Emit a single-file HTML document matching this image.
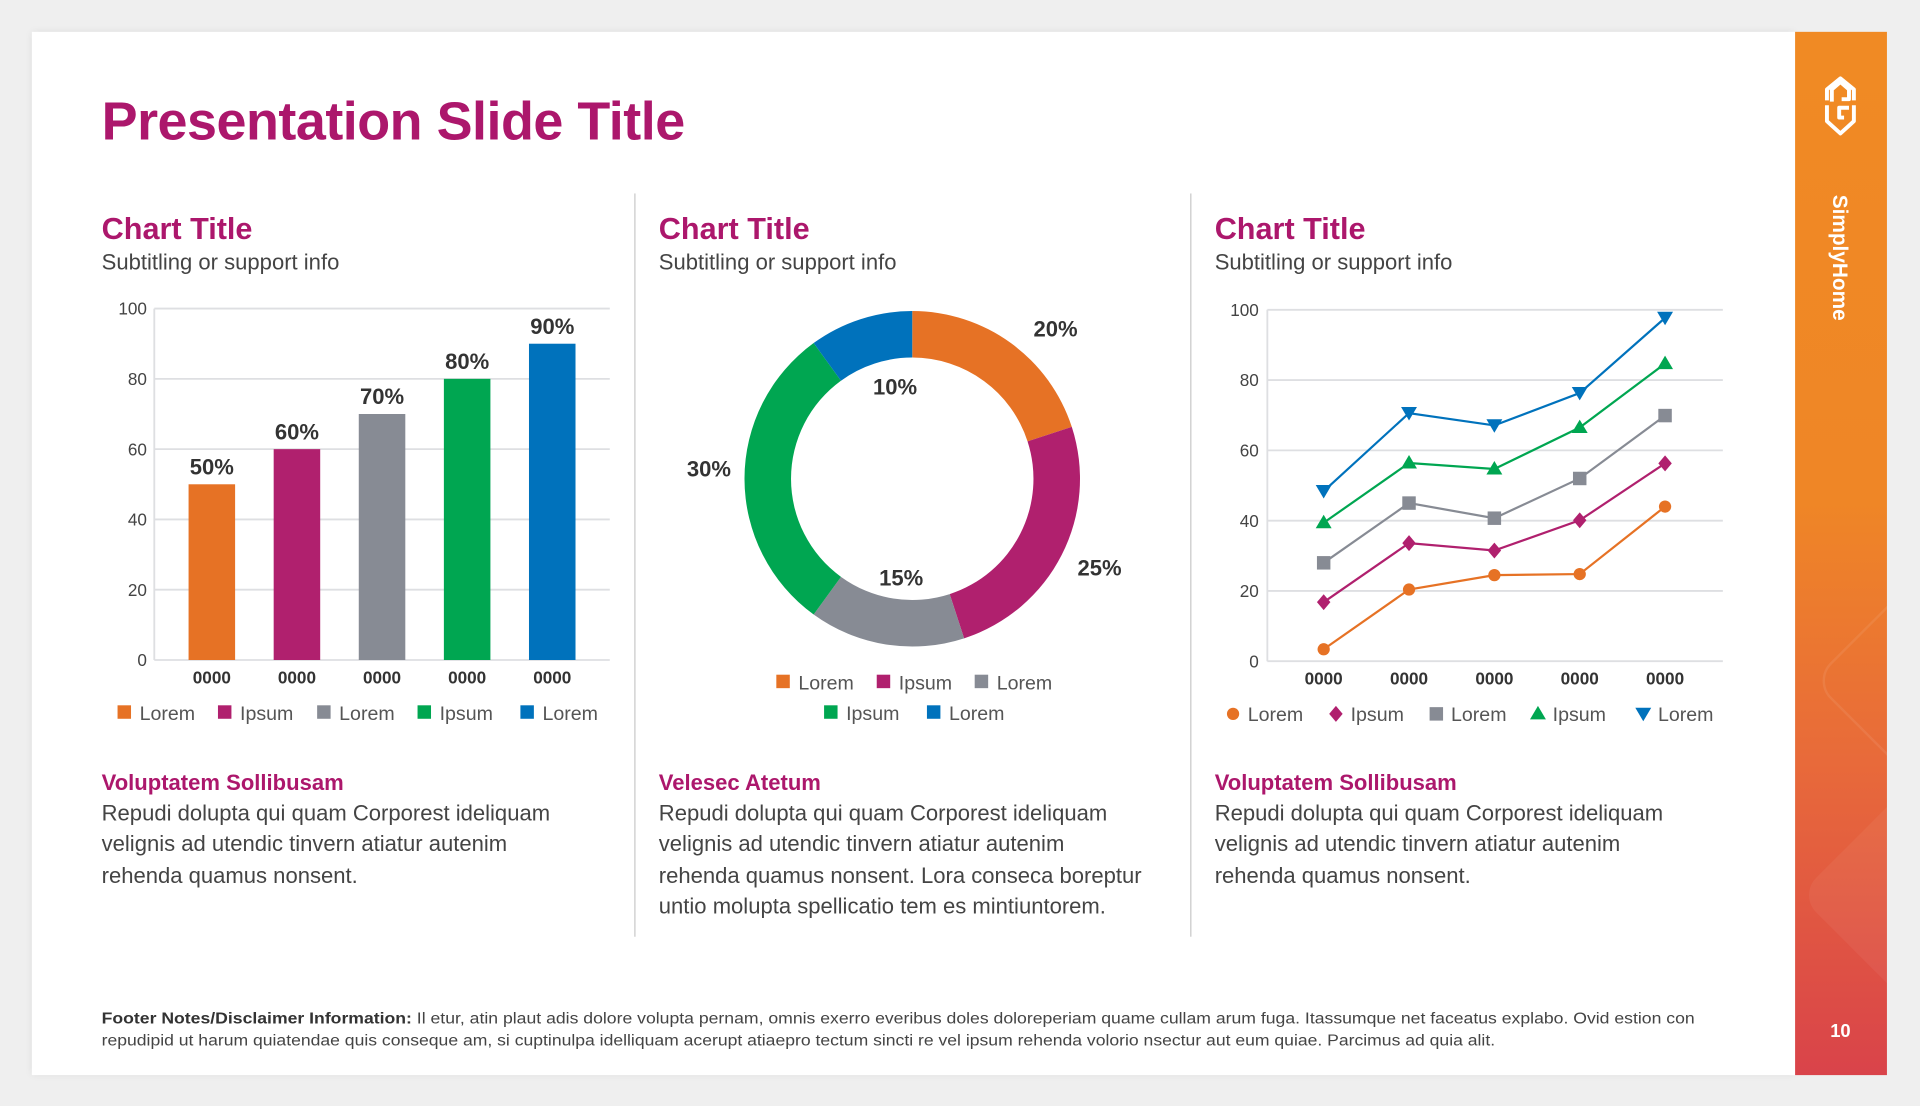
<!DOCTYPE html>
<html><head><meta charset="utf-8">
<style>
html,body{margin:0;padding:0;background:#efefef;width:1920px;height:1106px;overflow:hidden;font-family:"Liberation Sans",Arial,sans-serif;}
#wrap{position:absolute;left:0;top:0;width:1568px;height:903px;transform:scale(1.2244898);transform-origin:0 0;}
.abs{position:absolute;}
.slide{left:26px;top:26px;width:1440px;height:852px;background:#fff;box-shadow:0 0 6px rgba(0,0,0,0.08);}
.side{left:1466px;top:26px;width:75px;height:852px;background:linear-gradient(180deg,#f08a24 0%,#ef8626 45%,#e86a3a 70%,#d9434a 100%);overflow:hidden;}
h1{margin:0;position:absolute;left:83px;top:75px;font-size:44px;font-weight:bold;color:#ac176c;letter-spacing:-0.4px;white-space:nowrap;}
.ct{font-size:25px;font-weight:bold;color:#ac176c;white-space:nowrap;}
.sub{font-size:18px;color:#444;white-space:nowrap;}
.hd{font-size:18px;font-weight:bold;color:#ac176c;white-space:nowrap;}
.body{font-size:18px;color:#444;line-height:25.3px;white-space:nowrap;}
.div{width:1px;background:#c8c8c8;top:158px;height:607px;}
svg text{font-family:"Liberation Sans",Arial,sans-serif;}
</style></head><body>
<div id="wrap">
<div class="abs slide"></div>
<div class="abs side">
  <svg width="75" height="852">
    <rect x="40" y="470" width="120" height="120" rx="20" transform="rotate(45 100 530)" fill="none" stroke="rgba(255,255,255,0.08)" stroke-width="2"/>
    <rect x="30" y="640" width="130" height="130" rx="20" transform="rotate(45 95 705)" fill="rgba(255,255,255,0.05)"/>
    <g fill="none" stroke="#fff" stroke-width="3.2" stroke-linejoin="round">
      <path d="M30 57 L30 47 L37 41 L44 47 L44 55 L38 55"/>
      <path d="M26 60 L26 73 L37 83 L48 73 L48 60"/>
      <path d="M48 56 L48 47 L37 38 L26 47 L26 56"/>
      <path d="M44 62 L36 62 L36 70 L40 70"/>
    </g>
    <text x="0" y="0" transform="translate(31 133) rotate(90)" fill="#fff" font-size="17" font-weight="bold">SimplyHome</text>
    <text x="37" y="821" fill="#fff" font-size="15" font-weight="bold" text-anchor="middle">10</text>
  </svg>
</div>

<h1>Presentation Slide Title</h1>
<div class="abs div" style="left:518px"></div>
<div class="abs div" style="left:972px"></div>

<div class="abs ct" style="left:83px;top:173px">Chart Title</div>
<div class="abs sub" style="left:83px;top:204px">Subtitling or support info</div>
<div class="abs ct" style="left:538px;top:173px">Chart Title</div>
<div class="abs sub" style="left:538px;top:204px">Subtitling or support info</div>
<div class="abs ct" style="left:992px;top:173px">Chart Title</div>
<div class="abs sub" style="left:992px;top:204px">Subtitling or support info</div>

<svg class="abs" style="left:0;top:0" width="1568" height="903" id="charts"></svg>

<div class="abs hd" style="left:83px;top:629px">Voluptatem Sollibusam</div>
<div class="abs body" style="left:83px;top:652px">Repudi dolupta qui quam Corporest ideliquam<br>velignis ad utendic tinvern atiatur autenim<br>rehenda quamus nonsent.</div>
<div class="abs hd" style="left:538px;top:629px">Velesec Atetum</div>
<div class="abs body" style="left:538px;top:652px">Repudi dolupta qui quam Corporest ideliquam<br>velignis ad utendic tinvern atiatur autenim<br>rehenda quamus nonsent. Lora conseca boreptur<br>untio molupta spellicatio tem es mintiuntorem.</div>
<div class="abs hd" style="left:992px;top:629px">Voluptatem Sollibusam</div>
<div class="abs body" style="left:992px;top:652px">Repudi dolupta qui quam Corporest ideliquam<br>velignis ad utendic tinvern atiatur autenim<br>rehenda quamus nonsent.</div>

<svg class="abs" style="left:0;top:815px" width="1466" height="50">
  <text x="83" y="21" font-size="13" fill="#444" textLength="1301" lengthAdjust="spacingAndGlyphs"><tspan font-weight="bold" fill="#333">Footer Notes/Disclaimer Information:</tspan> Il etur, atin plaut adis dolore volupta pernam, omnis exerro everibus doles doloreperiam quame cullam arum fuga. Itassumque net faceatus explabo. Ovid estion con</text>
  <text x="83" y="39" font-size="13" fill="#444" textLength="1138" lengthAdjust="spacingAndGlyphs">repudipid ut harum quiatendae quis conseque am, si cuptinulpa idelliquam acerupt atiaepro tectum sincti re vel ipsum rehenda volorio nsectur aut eum quiae. Parcimus ad quia alit.</text>
</svg>
</div>

<script>
// ---- data ----
const barCategories = ['0000','0000','0000','0000','0000'];
const barValues = [50,60,70,80,90];
const barLabels = ['50%','60%','70%','80%','90%'];
const barLegend = ['Lorem','Ipsum','Lorem','Ipsum','Lorem'];
const yTicks = [0,20,40,60,80,100];

const donutValues = [20,25,15,30,10];
const donutLabels = ['20%','25%','15%','30%','10%'];
const donutLegend = ['Lorem','Ipsum','Lorem','Ipsum','Lorem'];

const lineCategories = ['0000','0000','0000','0000','0000'];
const lineOrange = [3.4,20.4,24.5,24.8,44];
const lineMagenta = [16.8,33.6,31.5,40.1,56.3];
const lineGray = [28,45,40.7,52,69.9];
const lineGreen = [39.4,56.4,54.7,66.5,84.7];
const lineBlue = [48.4,70.6,67.1,76.3,97.7];
const lineLegend = ['Lorem','Ipsum','Lorem','Ipsum','Lorem'];

const colors = ['#e67225','#b0206e','#878b94','#00a651','#0072bc'];
const svg = document.getElementById('charts');
const NS = 'http://www.w3.org/2000/svg';
function mk(tag, attrs, parent){ const e=document.createElementNS(NS,tag); for(const k in attrs) e.setAttribute(k,attrs[k]); (parent||svg).appendChild(e); return e; }
function txt(x,y,s,attrs,parent){ const e=mk('text',Object.assign({x:x,y:y},attrs),parent); e.textContent=s; return e; }

// ---- bar chart ----
(function(){
  const x0=126,x1=498,yTop=252,yBot=539;
  const ys=v=>yBot-(v/100)*(yBot-yTop);
  const xs=i=>173+i*69.5;
  const g=mk('g',{});
  
  
  yTicks.forEach(t=>{
    const l=mk('line',{x1:x0,x2:x1,y1:ys(t),y2:ys(t),stroke:'#dedfe2','stroke-width':1.5},g);
    
    
    const tl=txt(120,ys(t)+5,String(t),{'font-size':14,fill:'#444','text-anchor':'end'},g);
    
    
  });
  const ax=mk('line',{x1:x0,x2:x0,y1:yTop,y2:yBot,stroke:'#dedfe2','stroke-width':1.5},g);
  
  
  barValues.forEach((v,i)=>{
    const r=mk('rect',{x:xs(i)-19,y:ys(v),width:38,height:yBot-ys(v),fill:colors[i]},g);
    
    
    const lb=txt(xs(i),ys(v)-8,barLabels[i],{'font-size':18,'font-weight':'bold',fill:'#333','text-anchor':'middle'},g);
    
    
    const cl=txt(xs(i),558,barCategories[i],{'font-size':14,'font-weight':'bold',fill:'#333','text-anchor':'middle'},g);
    
    
  });
  const lx=[96,178,259,341,425];
  barLegend.forEach((s,i)=>{
    const le=mk('g',{},g);
    
    
    mk('rect',{x:lx[i],y:576,width:11,height:11,fill:colors[i]},le);
    txt(lx[i]+18,588,s,{'font-size':16,fill:'#555'},le);
  });
})();

// ---- donut ----
(function(){
  const cx=745,cy=391,R=137,r=99;
  const g=mk('g',{});
  
  
  const total=donutValues.reduce((a,b)=>a+b,0);
  let a0=0;
  const pt=(a,rad)=>[cx+rad*Math.sin(a),cy-rad*Math.cos(a)];
  const labelPos=[[862,275],[898,470],[736,478],[579,389],[731,322]];
  donutValues.forEach((v,i)=>{
    const a1=a0+v/total*Math.PI*2;
    const large=(a1-a0)>Math.PI?1:0;
    const p1=pt(a0,R),p2=pt(a1,R),p3=pt(a1,r),p4=pt(a0,r);
    const p=mk('path',{d:`M${p1} A${R} ${R} 0 ${large} 1 ${p2} L${p3} A${r} ${r} 0 ${large} 0 ${p4} Z`,fill:colors[i]},g);
    
    
    const lb=txt(labelPos[i][0],labelPos[i][1],donutLabels[i],{'font-size':18,'font-weight':'bold',fill:'#333','text-anchor':'middle'},g);
    
    
    a0=a1;
  });
  const lp=[[634,551],[716,551],[796,551],[673,576],[757,576]];
  donutLegend.forEach((s,i)=>{
    const le=mk('g',{},g);
    
    
    mk('rect',{x:lp[i][0],y:lp[i][1],width:11,height:11,fill:colors[i]},le);
    txt(lp[i][0]+18,lp[i][1]+12,s,{'font-size':16,fill:'#555'},le);
  });
})();

// ---- line chart ----
(function(){
  const x0=1035,x1=1407,yTop=253,yBot=540;
  const ys=v=>yBot-(v/100)*(yBot-yTop);
  const xs=i=>1081+i*69.7;
  const g=mk('g',{});
  
  
  yTicks.forEach(t=>{
    const l=mk('line',{x1:x0,x2:x1,y1:ys(t),y2:ys(t),stroke:'#dedfe2','stroke-width':1.5},g);
    
    
    const tl=txt(1028,ys(t)+5,String(t),{'font-size':14,fill:'#444','text-anchor':'end'},g);
    
    
  });
  const ax=mk('line',{x1:x0,x2:x0,y1:yTop,y2:yBot,stroke:'#dedfe2','stroke-width':1.5},g);
  
  
  lineCategories.forEach((c,i)=>{
    const cl=txt(xs(i),559,c,{'font-size':14,'font-weight':'bold',fill:'#333','text-anchor':'middle'},g);
    
    
  });
  function marker(shape,x,y,col,parent){
    if(shape==='circle') return mk('circle',{cx:x,cy:y,r:5,fill:col},parent);
    if(shape==='diamond') return mk('path',{d:`M${x} ${y-6.5} L${x+5.5} ${y} L${x} ${y+6.5} L${x-5.5} ${y} Z`,fill:col},parent);
    if(shape==='square') return mk('rect',{x:x-5.5,y:y-5.5,width:11,height:11,fill:col},parent);
    if(shape==='up') return mk('path',{d:`M${x} ${y-6.5} L${x+6.5} ${y+4.5} L${x-6.5} ${y+4.5} Z`,fill:col},parent);
    return mk('path',{d:`M${x-6.5} ${y-5} L${x+6.5} ${y-5} L${x} ${y+6} Z`,fill:col},parent);
  }
  const series=[lineOrange,lineMagenta,lineGray,lineGreen,lineBlue];
  const shapes=['circle','diamond','square','up','down'];
  series.forEach((vals,si)=>{
    const sg=mk('g',{},g);
    
    
    mk('polyline',{points:vals.map((v,i)=>xs(i)+','+ys(v)).join(' '),fill:'none',stroke:colors[si],'stroke-width':1.8},sg);
    vals.forEach((v,i)=>{
      const m=marker(shapes[si],xs(i),ys(v),colors[si],sg);
      
      
    });
  });
  const lx=[1007,1091,1173,1256,1342];
  lineLegend.forEach((s,i)=>{
    const le=mk('g',{},g);
    
    
    const m=marker(shapes[i],lx[i],583,colors[i],le);
    
    
    txt(lx[i]+12,589,s,{'font-size':16,fill:'#555'},le);
  });
})();
</script>
</body></html>
